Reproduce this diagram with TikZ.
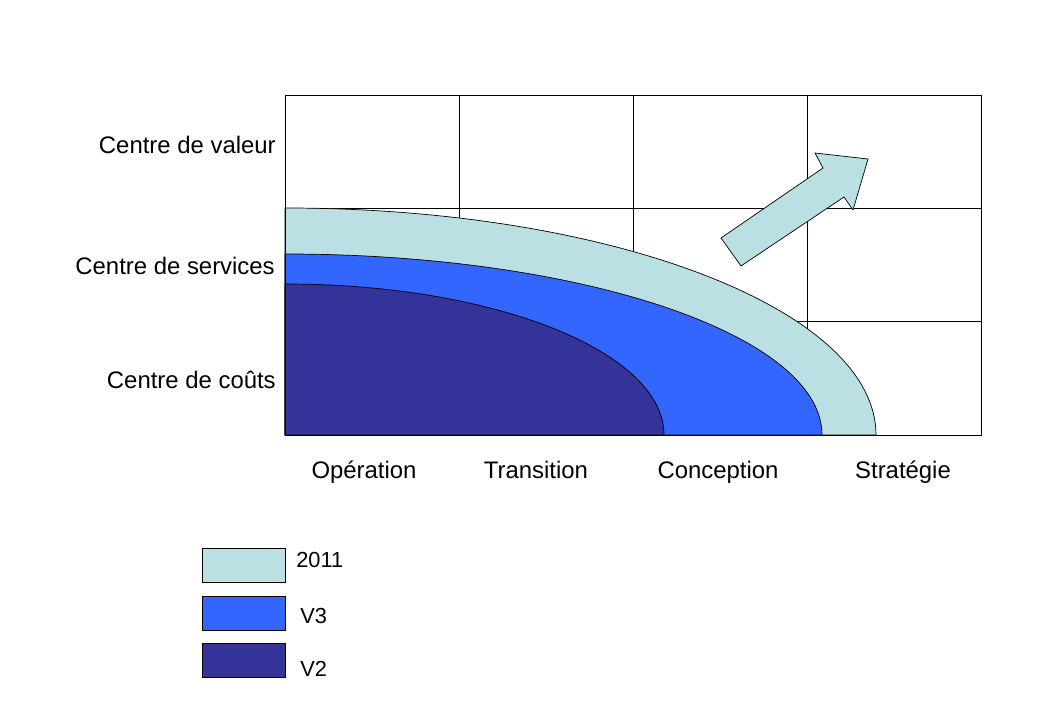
\documentclass[tikz,border=0pt]{standalone}
\usepackage{fontspec}
\setmainfont{Liberation Sans}
\usepackage{xcolor}
\usetikzlibrary{positioning}

\definecolor{lightcyan}{HTML}{BBE0E3}
\definecolor{midblue}{HTML}{3366FF}
\definecolor{darkblue}{HTML}{333399}

\begin{document}
\begin{tikzpicture}[x=0.025cm, y=-0.025cm,
  gridline/.style={draw=black, line width=0.7pt},
  zone/.style={draw=black, line width=0.5pt},
  rowlab/.style={anchor=east, inner sep=0pt, font=\fontsize{17}{20}\selectfont},
  collab/.style={anchor=base, inner sep=0pt, font=\fontsize{17}{20}\selectfont},
  legbox/.style={draw=black, line width=0.5pt, minimum width=2.075cm,
    minimum height=0.85cm, inner sep=0pt},
  legtxt/.style={anchor=west, inner sep=0pt, font=\fontsize{15.5}{18}\selectfont},
]
\useasboundingbox (0,0) rectangle (1040,720);

% grid
\draw[gridline] (459,95) -- (459,435) (633,95) -- (633,435) (807,95) -- (807,435);
\draw[gridline] (285,208) -- (981,208) (285,321) -- (981,321);

% zones
\draw[zone, fill=lightcyan] (285,435) -- (285,208)
  arc[start angle=-90, end angle=0, x radius=591, y radius=227] -- cycle;
\draw[zone, fill=midblue] (285,435) -- (285,254)
  arc[start angle=-90, end angle=0, x radius=537, y radius=181] -- cycle;
\draw[zone, fill=darkblue] (285,435) -- (285,284)
  arc[start angle=-90, end angle=0, x radius=379, y radius=151] -- cycle;

\draw[gridline] (285,95) rectangle (981,435);

% arrow
\draw[zone, fill=lightcyan] (721,238) -- (823,168) -- (815,153) -- (868,159)
  -- (853,210) -- (844,197) -- (741,266) -- cycle;

% labels
\node[rowlab] (valeur)   at (276,145) {Centre de valeur};
\node[rowlab] (services) at (275,266) {Centre de services};
\node[rowlab] (couts)    at (276,380) {Centre de coûts};

\node[collab] (operation)  at (364,478.5) {Opération};
\node[collab] (transition) at (536,478.5) {Transition};
\node[collab] (conception) at (718,478.5) {Conception};
\node[collab] (strategie)  at (903,478.5) {Stratégie};

% legend
\node[legbox, fill=lightcyan] (leg2011) at (243.5,565) {};
\node[legbox, fill=midblue]   (legv3)   at (243.5,613) {};
\node[legbox, fill=darkblue]  (legv2)   at (243.5,660) {};
\node[legtxt] (txt2011) at (296,560) {2011};
\node[legtxt] (txtv3)   at (300,616) {V3};
\node[legtxt] (txtv2)   at (300,669) {V2};
\end{tikzpicture}
\end{document}
